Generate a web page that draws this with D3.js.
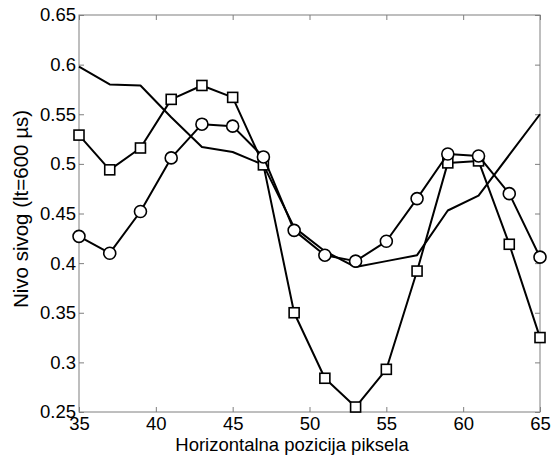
<!DOCTYPE html>
<html>
<head>
<meta charset="utf-8">
<script src="https://cdn.jsdelivr.net/npm/d3@7"></script>
<style>
  html, body { margin: 0; padding: 0; background: #fff; }
  svg { display: block; }
  text { font-family: "Liberation Sans", Arial, sans-serif; fill: #000; }
</style>
</head>
<body>
<svg id="chart" width="554" height="456"></svg>
<script>
const xValues = [35, 37, 39, 41, 43, 45, 47, 49, 51, 53, 55, 57, 59, 61, 63, 65];
const plainSeries = [0.598, 0.580, 0.579, 0.547, 0.517, 0.512, 0.499, 0.436, 0.412, 0.396, 0.402, 0.408, 0.453, 0.468, 0.509, 0.550];
const squareSeries = [0.529, 0.494, 0.516, 0.565, 0.579, 0.567, 0.499, 0.350, 0.284, 0.255, 0.293, 0.392, 0.501, 0.503, 0.419, 0.325];
const circleSeries = [0.427, 0.410, 0.452, 0.506, 0.540, 0.538, 0.507, 0.433, 0.408, 0.402, 0.422, 0.465, 0.510, 0.508, 0.470, 0.406];
const xTicks = [35, 40, 45, 50, 55, 60, 65];
const yTicks = [0.25, 0.3, 0.35, 0.4, 0.45, 0.5, 0.55, 0.6, 0.65];
const xLabel = "Horizontalna pozicija piksela";
const yLabel = "Nivo sivog (lt=600 µs)";

const svg = d3.select("#chart");
const L = 79, R = 540, T = 15, B = 412;
const x = d3.scaleLinear().domain([35, 65]).range([L, R]);
const y = d3.scaleLinear().domain([0.25, 0.65]).range([B, T]);
const axisColor = "#7f7f7f";
const tickLen = 5;

// frame
svg.append("rect").attr("x", L).attr("y", T).attr("width", R - L).attr("height", B - T)
  .attr("fill", "none").attr("stroke", axisColor).attr("stroke-width", 1);

function styleAxis(g) {
  g.select(".domain").remove();
  g.selectAll(".tick line").attr("stroke", axisColor);
  g.selectAll(".tick text").attr("font-size", 18.5).attr("font-family", "Liberation Sans, Arial, sans-serif").attr("fill", "#000");
}
const fmt = d => String(+d.toFixed(2));
// bottom axis (ticks inward)
svg.append("g").attr("transform", `translate(0,${B})`)
  .call(d3.axisBottom(x).tickValues(xTicks).tickSizeInner(-tickLen).tickSizeOuter(0).tickPadding(5).tickFormat(d3.format("d")))
  .call(styleAxis);
// top axis ticks
svg.append("g").attr("transform", `translate(0,${T})`)
  .call(d3.axisTop(x).tickValues(xTicks).tickSizeInner(-tickLen).tickSizeOuter(0).tickFormat(""))
  .call(styleAxis);
// left axis
svg.append("g").attr("transform", `translate(${L},0)`)
  .call(d3.axisLeft(y).tickValues(yTicks).tickSizeInner(-tickLen).tickSizeOuter(0).tickPadding(3).tickFormat(fmt))
  .call(styleAxis);
// right axis ticks
svg.append("g").attr("transform", `translate(${R},0)`)
  .call(d3.axisRight(y).tickValues(yTicks).tickSizeInner(-tickLen).tickSizeOuter(0).tickFormat(""))
  .call(styleAxis);

// labels
svg.append("text").attr("x", 292).attr("y", 451).attr("text-anchor", "middle")
  .attr("font-size", 18.5).text(xLabel);
svg.append("text").attr("transform", `translate(28,209) rotate(-90)`)
  .attr("text-anchor", "middle").attr("font-size", 20.5).text(yLabel);

const line = d3.line().x((d, i) => x(xValues[i])).y(d => y(d));
const plot = svg.append("g");

function drawLine(vals) {
  plot.append("path").datum(vals).attr("d", line)
    .attr("fill", "none").attr("stroke", "#000").attr("stroke-width", 2).attr("stroke-linejoin", "round");
}
drawLine(plainSeries);

drawLine(squareSeries);
plot.selectAll(".sq").data(squareSeries).enter().append("rect")
  .attr("x", (d, i) => x(xValues[i]) - 5).attr("y", d => y(d) - 5)
  .attr("width", 10).attr("height", 10)
  .attr("fill", "#fff").attr("stroke", "#000").attr("stroke-width", 1.6);

drawLine(circleSeries);
plot.selectAll(".ci").data(circleSeries).enter().append("circle")
  .attr("cx", (d, i) => x(xValues[i])).attr("cy", d => y(d)).attr("r", 6)
  .attr("fill", "#fff").attr("stroke", "#000").attr("stroke-width", 1.6);
</script>
</body>
</html>
